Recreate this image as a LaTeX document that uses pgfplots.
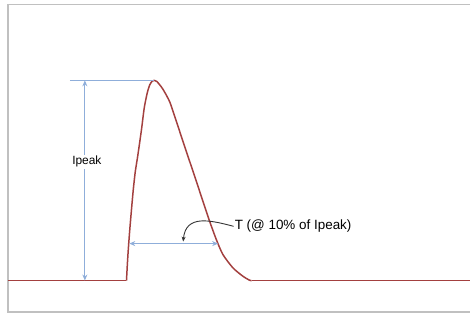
\documentclass[border=0pt]{standalone}
\usepackage{fontspec}
\setmainfont{Liberation Sans}
\usepackage{pgfplots}
\pgfplotsset{compat=1.18}
\usetikzlibrary{arrows.meta}
\definecolor{pulse}{HTML}{A3403F}
\definecolor{dim}{HTML}{8FAEDA}
\definecolor{frame}{HTML}{C0C0C0}
\begin{document}
\begin{tikzpicture}
\begin{axis}[
  width=471bp, height=314bp, scale only axis,
  xmin=0, xmax=471, ymin=0, ymax=314,
  y dir=reverse, hide axis, clip=false,
]
% invisible bounding rectangle
\path (axis cs:0,0) rectangle (axis cs:471,314);
% frame
\draw[frame, line width=1.6bp] (axis cs:471,4.5) -- (axis cs:8,4.5) -- (axis cs:8,312.5) -- (axis cs:471,312.5);
% pulse: baseline before, pulse, baseline after
\addplot[pulse, line width=1.5bp] coordinates {(8,281) (126.7,281)};
\addplot[pulse, line width=1.5bp, smooth, tension=0.4] coordinates {
(126.7,281) (127.5,266) (128.5,250) (130,230) (131.7,210) (133.5,190)
(135.5,172) (138,156) (141.7,130) (144.5,108) (147.5,93) (150,85) (152.5,81.2) (154.5,80.5)
(157,81.5) (160,85) (163.3,89.5) (170,102) (176.7,121.7) (183.3,141.7) (190,161.7)
(196.7,181.7) (203.3,201.7) (210,221.7) (216.7,240) (223.3,255) (233.3,268.3)
(243.3,276.7) (250,280.7) (252,281)
};
\addplot[pulse, line width=1.5bp] coordinates {(252,281) (471,281)};
% Ipeak dimension
\draw[dim, line width=1.1bp] (axis cs:70,80.5) -- (axis cs:154,80.5);
\draw[dim, line width=1.1bp, {Stealth[length=6bp,width=5bp]}-{Stealth[length=6bp,width=5bp]}] (axis cs:85,80.5) -- (axis cs:85,281);
\node[fill=white, inner sep=1.5bp, font=\fontsize{12}{14}\selectfont] at (axis cs:87,162) {Ipeak};
% T dimension
\draw[dim, line width=1.1bp, {Stealth[length=6bp,width=5bp]}-{Stealth[length=6bp,width=5bp]}] (axis cs:129.5,244) -- (axis cs:218.5,244);
\draw[black!80, line width=0.9bp, -{Stealth[length=5bp,width=4bp]}] (axis cs:234,226.7) .. controls (axis cs:212,221) and (axis cs:186,214) .. (axis cs:183.5,242);
\node[anchor=west, inner sep=0pt, font=\fontsize{13.5}{15}\selectfont] at (axis cs:235,226.5) {T (@ 10\% of Ipeak)};
\end{axis}
\end{tikzpicture}
\end{document}
